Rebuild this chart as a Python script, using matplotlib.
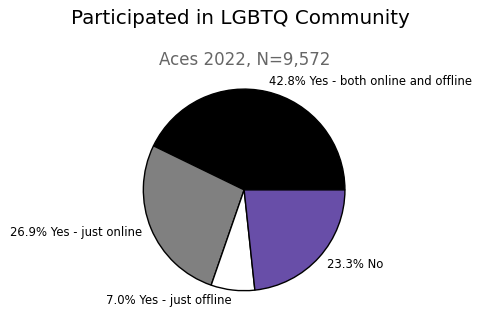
import matplotlib
matplotlib.use("Agg")
import matplotlib.pyplot as plt

labels = ["Yes - both online and offline", "Yes - just online", "Yes - just offline", "No"]
values = [42.8, 26.9, 7.0, 23.3]
colors = ["#000000", "#808080", "#ffffff", "#684ea8"]

fig = plt.figure(figsize=(4.82, 3.26), dpi=100)
ax = fig.add_axes([0.245, 0.031, 0.523, 0.773])
text_labels = [f"{v:.1f}% {l}" for v, l in zip(values, labels)]
ax.pie(values, labels=text_labels, colors=colors, startangle=0, counterclock=True,
       wedgeprops=dict(edgecolor="black", linewidth=1),
       textprops=dict(fontsize=8.4))
ax.set_aspect("equal")
fig.text(0.498, 0.942, "Participated in LGBTQ Community", ha="center", va="center", fontsize=14.3)
fig.text(0.507, 0.815, "Aces 2022, N=9,572", ha="center", va="center", fontsize=12, color="#666666")
fig.savefig("out.png", dpi=100)
